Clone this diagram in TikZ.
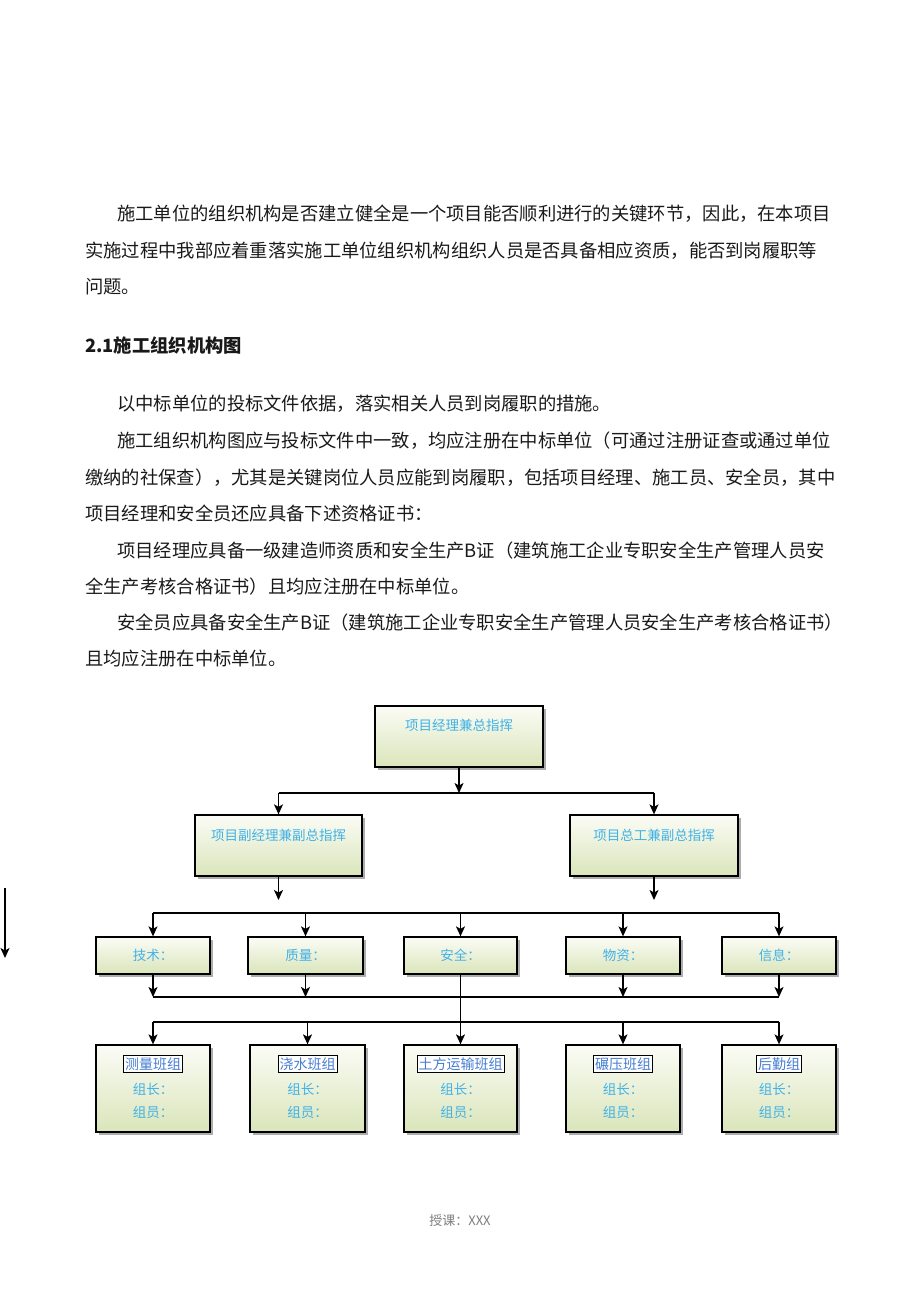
\documentclass[tikz,border=0pt]{standalone}
\usepackage{fontspec}
\setmainfont{Noto Sans CJK SC}
\usetikzlibrary{arrows.meta,shadows}
\definecolor{txtblue}{RGB}{64,178,232}
\definecolor{ttlblue}{RGB}{70,125,210}
\definecolor{boxtop}{RGB}{251,252,246}
\definecolor{boxbot}{RGB}{218,229,186}
\definecolor{footgrey}{RGB}{125,125,125}
\definecolor{bodytxt}{RGB}{25,25,25}
\begin{document}
\begin{tikzpicture}[x=1pt,y=-1pt,
  body/.style={anchor=base west, inner sep=0pt, text=bodytxt, font=\fontsize{18.3pt}{22pt}\selectfont},
  heading/.style={body, font=\fontsize{18.3pt}{22pt}\selectfont\bfseries},
  box/.style={draw=black, line width=1.3pt, top color=boxtop, bottom color=boxbot,
    drop shadow={shadow xshift=3pt,shadow yshift=-3pt,fill=black!40,opacity=0.8},
    inner sep=0pt, text=txtblue, font=\fontsize{13.5pt}{16pt}\selectfont},
  boxtext/.style={inner sep=0pt, text=txtblue, font=\fontsize{13.5pt}{16pt}\selectfont},
  ttl/.style={draw=black, line width=0.8pt, fill=white, text=ttlblue, inner xsep=1.5pt, inner ysep=2pt,
    font=\fontsize{14pt}{16pt}\selectfont},
  ln/.style={line width=1.3pt},
  arr/.style={line width=1.3pt, -{Stealth[length=10pt,width=9pt,inset=2.5pt]}}
]
\useasboundingbox (0,0) rectangle (920,1302);

% ---------- body text ----------
\node[body] (p1a) at (117,220) {施工单位的组织机构是否建立健全是一个项目能否顺利进行的关键环节，因此，在本项目};
\node[body] (p1b) at (85,257) {实施过程中我部应着重落实施工单位组织机构组织人员是否具备相应资质，能否到岗履职等};
\node[body] (p1c) at (85,293) {问题。};
\node[heading] (h21) at (85,352) {2.1施工组织机构图};
\node[body] (p2) at (117,410) {以中标单位的投标文件依据，落实相关人员到岗履职的措施。};
\node[body] (p3a) at (117,447) {施工组织机构图应与投标文件中一致，均应注册在中标单位（可通过注册证查或通过单位};
\node[body] (p3b) at (85,484) {缴纳的社保查），尤其是关键岗位人员应能到岗履职，包括项目经理、施工员、安全员，其中};
\node[body] (p3c) at (85,520) {项目经理和安全员还应具备下述资格证书：};
\node[body] (p4a) at (117,557) {项目经理应具备一级建造师资质和安全生产B证（建筑施工企业专职安全生产管理人员安};
\node[body] (p4b) at (85,593) {全生产考核合格证书）且均应注册在中标单位。};
\node[body] (p5a) at (117,629) {安全员应具备安全生产B证（建筑施工企业专职安全生产管理人员安全生产考核合格证书）};
\node[body] (p5b) at (85,665) {且均应注册在中标单位。};

% ---------- level 1 ----------
\node[box, minimum width=168pt, minimum height=61pt] (top) at (459,736.5) {};
\node[boxtext] (toptxt) at (459,725) {项目经理兼总指挥};

% ---------- level 2 ----------
\node[box, minimum width=167pt, minimum height=61pt] (vice) at (278.5,845.5) {};
\node[boxtext] (vicetxt) at (278.5,835) {项目副经理兼副总指挥};
\node[box, minimum width=168pt, minimum height=61pt] (chief) at (654,845.5) {};
\node[boxtext] (chieftxt) at (654,835) {项目总工兼副总指挥};

% ---------- level 3 ----------
\node[box, minimum width=114pt, minimum height=37pt] (tech) at (153,955.5) {技术：};
\node[box, minimum width=115pt, minimum height=37pt] (qual) at (305.5,955.5) {质量：};
\node[box, minimum width=113pt, minimum height=37pt] (safe) at (460.5,955.5) {安全：};
\node[box, minimum width=114pt, minimum height=37pt] (mat) at (623,955.5) {物资：};
\node[box, minimum width=114pt, minimum height=37pt] (info) at (779,955.5) {信息：};

% ---------- level 4 ----------
\foreach \nm/\cx/\w/\t in {survey/153/114/测量班组, pour/307.5/115/浇水班组, earth/460.5/113/土方运输班组, roll/623/114/碾压班组, logi/779/114/后勤组}{
  \node[box, minimum width=\w pt, minimum height=87pt] (\nm) at (\cx,1088.5) {};
  \node[ttl] (\nm ttl) at (\cx,1064) {\t};
  \node[boxtext] (\nm lead) at (\cx,1089) {组长：};
  \node[boxtext] (\nm mem) at (\cx,1112) {组员：};
}

% ---------- connectors ----------
\coordinate (j1) at (459,793);
\coordinate (h1l) at (278.5,793);
\coordinate (h1r) at (654,793);
\draw[arr] (top) -- (j1);
\draw[ln] (h1l) -- (h1r);
\draw[arr] (h1l) -- (vice);
\draw[arr] (h1r) -- (chief);

\coordinate (v2) at (278.5,900);
\coordinate (c2) at (654,900);
\draw[arr] (vice) -- (v2);
\draw[arr] (chief) -- (c2);

\coordinate (h2a) at (153,913);
\coordinate (h2b) at (305.5,913);
\coordinate (h2c) at (460.5,913);
\coordinate (h2d) at (623,913);
\coordinate (h2e) at (779,913);
\draw[ln] (h2a) -- (h2e);
\foreach \c/\b in {h2a/tech, h2b/qual, h2c/safe, h2d/mat, h2e/info}
  \draw[arr] (\c) -- (\b);

\coordinate (h3a) at (153,997);
\coordinate (h3b) at (305.5,997);
\coordinate (h3d) at (623,997);
\coordinate (h3e) at (779,997);
\draw[ln] (h3a) -- (h3e);
\foreach \b/\c in {tech/h3a, qual/h3b, mat/h3d, info/h3e}
  \draw[arr] (\b) -- (\c);
\draw[arr] (safe) -- (earth);

\coordinate (h4a) at (153,1022);
\coordinate (h4b) at (307.5,1022);
\coordinate (h4d) at (623,1022);
\coordinate (h4e) at (779,1022);
\draw[ln] (h4a) -- (h4e);
\foreach \c/\b in {h4a/survey, h4b/pour, h4d/roll, h4e/logi}
  \draw[arr] (\c) -- (\b);

% ---------- stray arrow at left ----------
\coordinate (la) at (5,888);
\coordinate (lb) at (5,958);
\draw[arr] (la) -- (lb);

% ---------- footer ----------
\node[inner sep=0pt, text=footgrey, font=\fontsize{13pt}{15pt}\selectfont] (foot) at (460,1221) {授课：XXX};
\end{tikzpicture}
\end{document}
